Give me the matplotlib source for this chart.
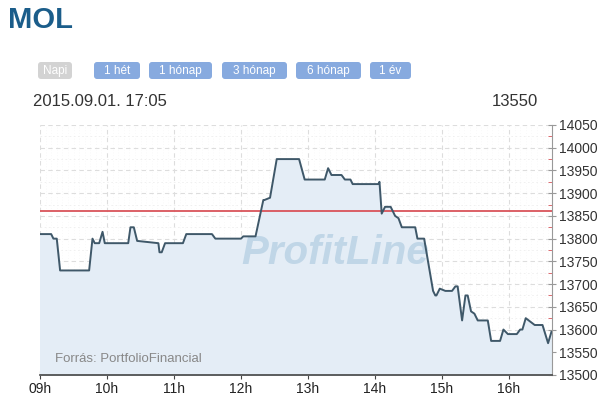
import matplotlib
matplotlib.use("Agg")
import matplotlib.pyplot as plt
from matplotlib.patches import FancyBboxPatch
from matplotlib.ticker import MultipleLocator

plt.rcParams["font.family"] = ["Liberation Sans", "DejaVu Sans"]

# intraday prices of MOL, 2015.09.01
times = ["09:00", "09:10", "09:12", "09:15", "09:18", "09:44", "09:47", "09:49",
         "09:53", "09:56", "09:58", "10:19", "10:21", "10:24", "10:27", "10:46",
         "10:47", "10:49", "10:52", "11:08", "11:11", "11:34", "11:37", "12:00",
         "12:02", "12:13", "12:20", "12:21", "12:26", "12:32", "12:52", "12:57",
         "13:15", "13:18", "13:21", "13:30", "13:33", "13:38", "13:40", "14:03",
         "14:04", "14:06", "14:09", "14:14", "14:18", "14:21", "14:24", "14:36",
         "14:38", "14:44", "14:52", "14:54", "14:55", "14:58", "15:03", "15:09",
         "15:12", "15:14", "15:18", "15:21", "15:23", "15:26", "15:29", "15:32",
         "15:41", "15:44", "15:52", "15:55", "15:59", "16:07", "16:10", "16:12",
         "16:15", "16:23", "16:30", "16:35", "16:38"]
prices = [13810, 13810, 13800, 13800, 13730, 13730, 13800, 13790,
          13790, 13815, 13790, 13790, 13825, 13825, 13795, 13790,
          13770, 13770, 13790, 13790, 13810, 13810, 13800, 13800,
          13805, 13805, 13885, 13885, 13890, 13975, 13975, 13930,
          13930, 13955, 13940, 13940, 13930, 13930, 13920, 13920,
          13925, 13855, 13870, 13870, 13850, 13845, 13825, 13825,
          13800, 13800, 13685, 13675, 13675, 13690, 13685, 13685,
          13695, 13695, 13620, 13675, 13675, 13640, 13635, 13620,
          13620, 13575, 13575, 13600, 13590, 13590, 13600, 13600,
          13625, 13610, 13610, 13570, 13595]
prev_close = 13860
last_price = 13550
timestamp = "2015.09.01. 17:05"
hour_ticks = [9, 10, 11, 12, 13, 14, 15, 16]
hour_labels = ["09h", "10h", "11h", "12h", "13h", "14h", "15h", "16h"]
buttons = ["Napi", "1 hét", "1 hónap", "3 hónap", "6 hónap", "1 év"]

W, H = 613, 409
hours = [int(t[:2]) + int(t[3:]) / 60 for t in times]

fig = plt.figure(figsize=(W / 100, H / 100), dpi=100)

# page elements in pixel coordinates
page = fig.add_axes([0, 0, 1, 1])
page.set_xlim(0, W)
page.set_ylim(H, 0)
page.axis("off")

page.text(8, 20, "MOL", fontsize=21, fontweight="bold", color="#1b5d8a",
          va="center", ha="left")

btn_x = [38, 94, 149, 222, 296, 370]
btn_w = [34, 46, 63, 65, 65, 41]
for i, label in enumerate(buttons):
    face = "#d3d3d3" if i == 0 else "#87aadf"
    page.add_patch(FancyBboxPatch((btn_x[i], 62), btn_w[i], 17,
                                  boxstyle="round,pad=0,rounding_size=3",
                                  fc=face, ec="none"))
    page.text(btn_x[i] + btn_w[i] / 2, 71, label, fontsize=8.5, color="white",
              ha="center", va="center")

page.text(33, 101, timestamp, fontsize=12, color="#333333",
          ha="left", va="center")
page.text(538, 101, str(last_price), fontsize=12, color="#333333",
          ha="right", va="center")

# chart
ax = fig.add_axes([40 / W, (H - 375) / H, 512 / W, 250 / H])
ax.set_xlim(9, 9 + 512 / 67)
ax.set_ylim(13500, 14050)
ax.set_facecolor("white")

ax.fill_between(hours, prices, 13500, color="#e4edf6", zorder=1)
ax.plot(hours, prices, color="#3f5869", lw=1.4, zorder=4)
ax.axhline(prev_close, color="#d9545a", lw=1.3, zorder=3)

ax.text(0.576, 0.488, "ProfitLine", transform=ax.transAxes, fontsize=29,
        fontweight="bold", fontstyle="italic", color="#c0d6e7",
        ha="center", va="center", zorder=2)
ax.text(15 / 512, 16 / 250, "Forrás: PortfolioFinancial", transform=ax.transAxes,
        fontsize=9.5, color="#888888", ha="left", va="center", zorder=2)

ax.set_xticks(hour_ticks)
ax.set_xticklabels(hour_labels)
ax.yaxis.set_major_locator(MultipleLocator(50))
ax.yaxis.set_minor_locator(MultipleLocator(25))
ax.xaxis.set_minor_locator(MultipleLocator(1 / 12))
ax.yaxis.tick_right()

ax.grid(which="major", color="#dddddd", ls=(0, (4, 3)), lw=0.8, zorder=0)
ax.grid(which="minor", axis="y", color="#eeeeee", ls=(0, (2, 3)), lw=0.6, zorder=0)
ax.grid(which="minor", axis="x", color="#f4f4f4", ls=(0, (1, 3)), lw=0.5, zorder=0)
ax.set_axisbelow(True)

for s in ["top", "left"]:
    ax.spines[s].set_visible(False)
ax.spines["bottom"].set_color("#444444")
ax.spines["bottom"].set_linewidth(1.2)
ax.spines["right"].set_color("#999999")
ax.spines["right"].set_zorder(5)
ax.spines["bottom"].set_zorder(5)

ax.tick_params(axis="x", which="major", direction="inout", length=6, color="#444444",
               labelsize=10, labelcolor="#222222", pad=2)
ax.tick_params(axis="x", which="minor", length=0)
ax.tick_params(axis="y", which="major", direction="inout", length=6, color="#999999",
               labelsize=10, labelcolor="#333333", pad=2)
ax.tick_params(axis="y", which="minor", direction="in", length=3, color="#d9545a")

fig.savefig("out.png", dpi=100)
